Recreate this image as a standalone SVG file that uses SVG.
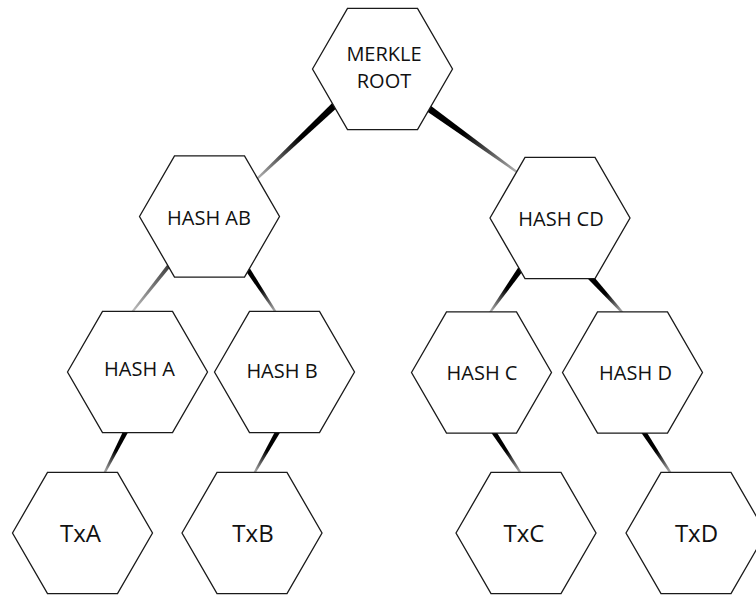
<svg xmlns="http://www.w3.org/2000/svg" width="756" height="596" viewBox="0 0 756 596">
<style>
.hex{fill:#fff;stroke:#1a1a1a;stroke-width:1.3}
.lbl{font-family:"Open Sans","Liberation Sans",sans-serif;font-size:20px;fill:#111;text-anchor:middle}
.tx{font-size:24px}
</style>
<defs>
<polygon id="hexShape" points="-70,0 -35,-60.6 35,-60.6 70,0 35,60.6 -35,60.6"/>
<linearGradient id="g1" gradientUnits="userSpaceOnUse" x1="335" y1="105" x2="258" y2="178"><stop offset="0" stop-color="#000"/><stop offset="0.45" stop-color="#000"/><stop offset="1" stop-color="#b0b0b0"/></linearGradient>
<linearGradient id="g2" gradientUnits="userSpaceOnUse" x1="428" y1="108" x2="517" y2="172"><stop offset="0" stop-color="#000"/><stop offset="0.4" stop-color="#000"/><stop offset="1" stop-color="#b0b0b0"/></linearGradient>
<linearGradient id="g3" gradientUnits="userSpaceOnUse" x1="168" y1="267" x2="133" y2="311"><stop offset="0" stop-color="#444"/><stop offset="1" stop-color="#bbb"/></linearGradient>
<linearGradient id="g4" gradientUnits="userSpaceOnUse" x1="248" y1="270" x2="275" y2="311"><stop offset="0" stop-color="#000"/><stop offset="0.45" stop-color="#000"/><stop offset="1" stop-color="#aaa"/></linearGradient>
<linearGradient id="g5" gradientUnits="userSpaceOnUse" x1="520" y1="270" x2="491" y2="311"><stop offset="0" stop-color="#000"/><stop offset="0.45" stop-color="#000"/><stop offset="1" stop-color="#aaa"/></linearGradient>
<linearGradient id="g6" gradientUnits="userSpaceOnUse" x1="592" y1="279" x2="622" y2="312"><stop offset="0" stop-color="#000"/><stop offset="0.45" stop-color="#000"/><stop offset="1" stop-color="#aaa"/></linearGradient>
<linearGradient id="g7" gradientUnits="userSpaceOnUse" x1="125" y1="433" x2="105" y2="472"><stop offset="0" stop-color="#000"/><stop offset="0.45" stop-color="#000"/><stop offset="1" stop-color="#aaa"/></linearGradient>
<linearGradient id="g8" gradientUnits="userSpaceOnUse" x1="277" y1="433" x2="255" y2="472"><stop offset="0" stop-color="#000"/><stop offset="0.45" stop-color="#000"/><stop offset="1" stop-color="#aaa"/></linearGradient>
<linearGradient id="g9" gradientUnits="userSpaceOnUse" x1="495" y1="434" x2="520" y2="472"><stop offset="0" stop-color="#000"/><stop offset="0.45" stop-color="#000"/><stop offset="1" stop-color="#aaa"/></linearGradient>
<linearGradient id="g10" gradientUnits="userSpaceOnUse" x1="645" y1="434" x2="670" y2="472"><stop offset="0" stop-color="#000"/><stop offset="0.45" stop-color="#000"/><stop offset="1" stop-color="#aaa"/></linearGradient>
</defs>
<rect width="756" height="596" fill="#fff"/>
<g id="connectors">
<polygon fill="url(#g1)" points="335.49,99.71 254.41,180.02 255.79,181.48 340.31,104.79"/>
<polygon fill="url(#g2)" points="422.71,108.50 519.67,175.15 520.83,173.53 426.79,102.82"/>
<polygon fill="url(#g3)" points="168.92,262.62 129.73,313.51 131.29,314.75 172.06,265.12"/>
<polygon fill="url(#g4)" points="243.71,268.04 276.37,314.89 278.04,313.79 247.89,265.29"/>
<polygon fill="url(#g5)" points="519.86,265.00 487.87,313.69 489.51,314.85 524.76,268.46"/>
<polygon fill="url(#g6)" points="587.09,278.06 623.95,315.63 625.43,314.29 591.53,274.02"/>
<polygon fill="url(#g7)" points="124.61,428.30 102.28,475.10 104.06,476.02 129.05,430.58"/>
<polygon fill="url(#g8)" points="276.79,428.29 252.16,474.99 253.90,475.97 281.15,430.75"/>
<polygon fill="url(#g9)" points="490.71,432.03 521.37,475.89 523.04,474.79 494.89,429.29"/>
<polygon fill="url(#g10)" points="640.71,432.03 671.37,475.89 673.04,474.79 644.89,429.29"/>
</g>
<g id="root"><use href="#hexShape" class="hex" x="382.5" y="69"/><text class="lbl" x="384" y="61">MERKLE</text><text class="lbl" x="384" y="88">ROOT</text></g>
<g id="hashAB"><use href="#hexShape" class="hex" x="209.5" y="216.5"/><text class="lbl" x="209" y="225">HASH AB</text></g>
<g id="hashCD"><use href="#hexShape" class="hex" x="560" y="218"/><text class="lbl" x="561" y="226">HASH CD</text></g>
<g id="hashA"><use href="#hexShape" class="hex" x="137.5" y="372"/><text class="lbl" x="139.5" y="376">HASH A</text></g>
<g id="hashB"><use href="#hexShape" class="hex" x="284.5" y="372"/><text class="lbl" x="282" y="377.5">HASH B</text></g>
<g id="hashC"><use href="#hexShape" class="hex" x="481.5" y="372.5"/><text class="lbl" x="482" y="380">HASH C</text></g>
<g id="hashD"><use href="#hexShape" class="hex" x="632.5" y="372.5"/><text class="lbl" x="635.5" y="380">HASH D</text></g>
<g id="txA"><use href="#hexShape" class="hex" x="82.5" y="533"/><text class="lbl tx" x="80.5" y="542">TxA</text></g>
<g id="txB"><use href="#hexShape" class="hex" x="252" y="533"/><text class="lbl tx" x="253" y="542">TxB</text></g>
<g id="txC"><use href="#hexShape" class="hex" x="526" y="533"/><text class="lbl tx" x="524" y="542">TxC</text></g>
<g id="txD"><use href="#hexShape" class="hex" x="696" y="533"/><text class="lbl tx" x="696.5" y="542">TxD</text></g>
</svg>
